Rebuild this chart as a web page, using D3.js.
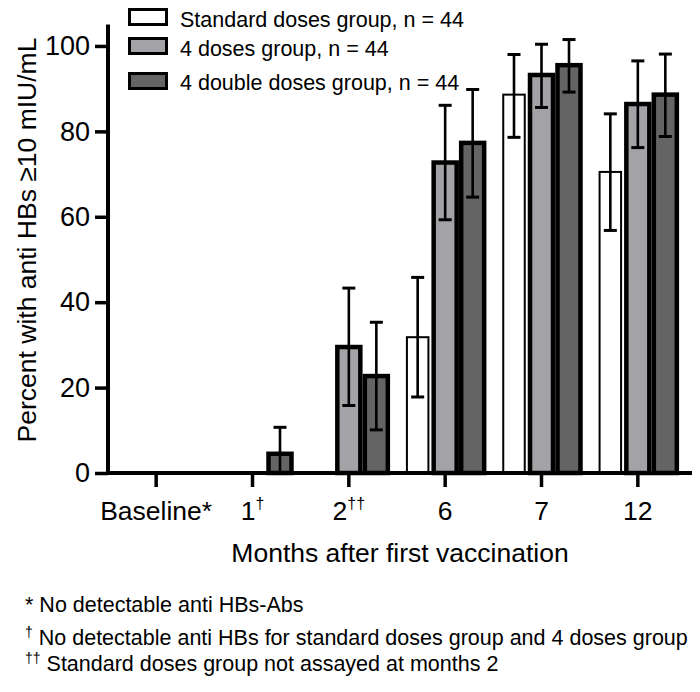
<!DOCTYPE html>
<html>
<head>
<meta charset="utf-8">
<script src="https://cdn.jsdelivr.net/npm/d3@7/dist/d3.min.js"></script>
<style>
  html, body { margin: 0; padding: 0; background: #fff; }
  svg { display: block; font-family: "Liberation Sans", Arial, Helvetica, sans-serif; }
</style>
</head>
<body>
<svg id="chart" width="700" height="692"></svg>
<script>
// ---- data ----
const categories = ["Baseline*", "1", "2", "6", "7", "12"];
const categorySup = ["", "\u2020", "\u2020\u2020", "", "", ""];
const seriesNames = ["Standard doses group, n = 44", "4 doses group, n = 44", "4 double doses group, n = 44"];
const standardValues = [0, 0, null, 31.8, 88.6, 70.5];
const standardLow    = [null, null, null, 17.8, 78.6, 56.8];
const standardHigh   = [null, null, null, 45.8, 98.0, 84.1];
const fourValues     = [0, 0, 29.5, 72.7, 93.2, 86.4];
const fourLow        = [null, null, 15.8, 59.3, 85.6, 76.2];
const fourHigh       = [null, null, 43.3, 86.1, 100.4, 96.5];
const doubleValues   = [0, 4.5, 22.7, 77.3, 95.5, 88.6];
const doubleLow      = [null, 0, 10.1, 64.6, 89.2, 78.8];
const doubleHigh     = [null, 10.7, 35.3, 89.8, 101.5, 98.1];
const yTicks = [0, 20, 40, 60, 80, 100];
const footnotes = [
  {sup: "*", text: " No detectable anti HBs-Abs"},
  {sup: "\u2020", text: " No detectable anti HBs for standard doses group and 4 doses group"},
  {sup: "\u2020\u2020", text: " Standard doses group not assayed at months 2"}
];

// ---- styles ----
const fills = ["#ffffff", "#a3a3a7", "#646464"];
const strokeW = [2, 4.5, 4.5];

const svg = d3.select("#chart");
const x = d3.scaleBand().domain(categories).range([108, 686]);
const y = d3.scaleLinear().domain([0, 105]).range([473, 24.6]);

const seriesData = [
  {vals: standardValues, lo: standardLow, hi: standardHigh},
  {vals: fourValues, lo: fourLow, hi: fourHigh},
  {vals: doubleValues, lo: doubleLow, hi: doubleHigh}
];
const slot = 27.5;

// bars
seriesData.forEach((s, si) => {
  const g = svg.append("g");
  const items = categories.map((c, i) => ({c, v: s.vals[i], lo: s.lo[i], hi: s.hi[i]}))
    .filter(d => d.v !== null && d.v > 0);
  const inset = si === 0 ? 3 : strokeW[si] / 2;
  g.selectAll("rect").data(items).enter().append("rect")
    .attr("x", d => x(d.c) + x.bandwidth() / 2 + (si - 1.5) * slot + inset)
    .attr("width", slot - 2 * inset)
    .attr("y", d => y(d.v))
    .attr("height", d => y(0) - y(d.v))
    .attr("fill", fills[si])
    .attr("stroke", "#000")
    .attr("stroke-width", strokeW[si]);
});

// error bars
seriesData.forEach((s, si) => {
  const g = svg.append("g");
  const items = categories.map((c, i) => ({c, v: s.vals[i], lo: s.lo[i], hi: s.hi[i]}))
    .filter(d => d.hi !== null);
  const cx = d => x(d.c) + x.bandwidth() / 2 + (si - 1) * slot;
  g.selectAll("line.v").data(items).enter().append("line")
    .attr("x1", cx).attr("x2", cx)
    .attr("y1", d => y(d.lo)).attr("y2", d => y(d.hi))
    .attr("stroke", "#000").attr("stroke-width", 2.6);
  g.selectAll("line.hi").data(items).enter().append("line")
    .attr("x1", d => cx(d) - 6.5).attr("x2", d => cx(d) + 6.5)
    .attr("y1", d => y(d.hi)).attr("y2", d => y(d.hi))
    .attr("stroke", "#000").attr("stroke-width", 3);
  g.selectAll("line.lo").data(items.filter(d => d.lo > 0)).enter().append("line")
    .attr("x1", d => cx(d) - 6.5).attr("x2", d => cx(d) + 6.5)
    .attr("y1", d => y(d.lo)).attr("y2", d => y(d.lo))
    .attr("stroke", "#000").attr("stroke-width", 3);
});

// y axis
const yAxis = svg.append("g").attr("transform", "translate(108,0)")
  .call(d3.axisLeft(y).tickValues(yTicks).tickSize(13).tickPadding(5));
yAxis.select(".domain").remove();
yAxis.selectAll(".tick line").attr("stroke", "#000").attr("stroke-width", 3.5);
yAxis.selectAll(".tick text").attr("font-size", 27).attr("fill", "#000")
  .attr("font-family", "Liberation Sans, Arial, sans-serif");
svg.append("line").attr("x1", 108).attr("x2", 108).attr("y1", y(105)).attr("y2", y(0) + 2)
  .attr("stroke", "#000").attr("stroke-width", 4);

// x axis
const xAxis = svg.append("g").attr("transform", `translate(0,${y(0)})`)
  .call(d3.axisBottom(x).tickSize(14).tickPadding(10).tickFormat(""));
xAxis.select(".domain").remove();
xAxis.selectAll(".tick line").attr("stroke", "#000").attr("stroke-width", 3.5);
xAxis.selectAll(".tick").each(function(d, i) {
  const t = d3.select(this).append("text")
    .attr("y", 47).attr("text-anchor", "middle")
    .attr("font-size", 26.5).attr("fill", "#000");
  t.append("tspan").text(d);
  if (categorySup[i]) t.append("tspan").attr("font-size", 16).attr("dy", -11).text(categorySup[i]);
});
svg.append("line").attr("x1", 106).attr("x2", 692).attr("y1", y(0)).attr("y2", y(0))
  .attr("stroke", "#000").attr("stroke-width", 4);

// axis titles
svg.append("text").attr("x", 400).attr("y", 562).attr("text-anchor", "middle")
  .attr("font-size", 26.5).text("Months after first vaccination");
svg.append("text").attr("transform", "translate(36,240) rotate(-90)").attr("text-anchor", "middle")
  .attr("font-size", 26.5).text("Percent with anti HBs \u226510 mIU/mL");

// legend
const legendRows = [{box: 8, base: 26.5}, {box: 37, base: 55.5}, {box: 72, base: 89.5}];
const lg = svg.append("g");
seriesNames.forEach((name, i) => {
  lg.append("rect").attr("x", 129.5).attr("y", legendRows[i].box + 1.5).attr("width", 37).attr("height", 15)
    .attr("fill", fills[i]).attr("stroke", "#000").attr("stroke-width", 3);
  lg.append("text").attr("x", 180).attr("y", legendRows[i].base).attr("font-size", 21.5).text(name);
});

// footnotes
const fnBase = [612, 645, 671];
footnotes.forEach((f, i) => {
  const t = svg.append("text").attr("x", 25).attr("y", fnBase[i]).attr("font-size", 21.5);
  if (f.sup === "*") t.append("tspan").text(f.sup);
  else t.append("tspan").attr("font-size", 14).attr("dy", -8).text(f.sup);
  t.append("tspan").attr("dy", f.sup === "*" ? 0 : 8).text(f.text);
});
</script>
</body>
</html>
